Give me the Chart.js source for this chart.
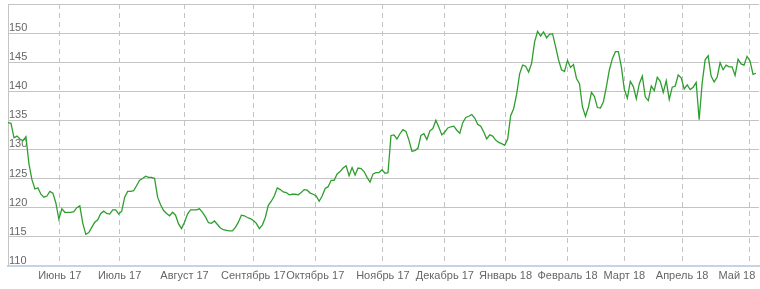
<!DOCTYPE html>
<html>
<head>
<meta charset="utf-8">
<script src="https://cdn.jsdelivr.net/npm/chart.js@4.4.1/dist/chart.umd.min.js"></script>
<style>
  html, body { margin: 0; padding: 0; background: #fff; }
</style>
</head>
<body>
<canvas id="priceChart" width="760" height="289"></canvas>
<script>
// daily closes, mid-May 2017 .. early May 2018 (one value per trading day)
const prices = [
    134.6, 134.5, 132.0, 132.3, 131.8, 131.5, 132.2, 127.5, 124.8, 123.2,
    123.4, 122.3, 121.8, 122.0, 122.8, 122.5, 120.8, 118.0, 119.8, 119.2,
    119.2, 119.2, 119.3, 120.0, 120.3, 117.3, 115.4, 115.7, 116.6, 117.5,
    117.9, 119.0, 119.4, 119.0, 118.9, 119.6, 119.6, 118.9, 119.4, 121.8,
    122.8, 122.8, 122.9, 123.8, 124.7, 125.0, 125.4, 125.2, 125.2, 125.0,
    121.8, 120.5, 119.5, 119.0, 118.6, 119.2, 118.7, 117.2, 116.4, 117.5,
    118.9, 119.6, 119.6, 119.6, 119.8, 119.2, 118.4, 117.4, 117.3, 117.7,
    117.1, 116.5, 116.2, 116.1, 116.0, 116.0, 116.6, 117.5, 118.7, 118.6,
    118.3, 118.1, 117.8, 117.3, 116.4, 117.0, 118.3, 120.4, 121.1, 122.0,
    123.4, 123.1, 122.7, 122.6, 122.2, 122.3, 122.3, 122.2, 122.6, 123.1,
    123.0, 122.5, 122.3, 122.0, 121.1, 122.0, 123.3, 123.6, 124.7, 124.7,
    125.8, 126.2, 126.8, 127.2, 125.5, 126.9, 125.6, 126.8, 126.7, 126.2,
    125.2, 124.4, 125.8, 126.0, 126.0, 126.5, 125.9, 126.0, 132.4, 132.5,
    131.8, 132.7, 133.4, 133.1, 131.6, 129.7, 129.8, 130.2, 132.4, 132.7,
    131.7, 133.2, 133.6, 135.0, 133.8, 132.5, 133.0, 133.7, 133.9, 134.0,
    133.3, 132.8, 134.6, 135.5, 135.7, 136.0, 135.4, 134.3, 134.0, 133.0,
    131.8, 132.5, 132.3, 131.6, 131.2, 131.0, 130.7, 131.8, 135.8, 137.0,
    139.5, 143.0, 144.5, 144.3, 143.3, 144.8, 148.5, 150.3, 149.5, 150.2,
    149.2, 149.8, 149.9, 147.7, 145.4, 143.7, 143.4, 145.3, 144.1, 144.6,
    142.2, 141.3, 137.3, 135.7, 137.3, 139.8, 139.1, 137.2, 137.1, 138.2,
    140.8, 143.7, 145.6, 146.8, 146.8, 144.2, 140.3, 138.8, 141.7, 140.8,
    138.7, 141.3, 142.6, 139.0, 138.4, 140.9, 140.1, 142.4, 141.7, 139.8,
    141.8, 138.6, 140.7, 140.9, 142.8, 142.3, 140.4, 141.1, 140.3, 140.7,
    141.5, 135.1, 141.4, 145.4, 146.1, 142.6, 141.6, 142.4, 144.9, 143.7,
    144.5, 144.2, 144.2, 142.7, 145.5, 144.7, 144.5, 146.0, 145.2, 142.9,
    143.1
];

// where each month starts, in trading-day index units
const monthPos = [17.3, 37.3, 59, 82, 102.7, 125.3, 146, 166.3, 187, 206, 225.3, 247.7];
const monthLabels = [
    'Июнь 17', 'Июль 17', 'Август 17', 'Сентябрь 17', 'Октябрь 17', 'Ноябрь 17',
    'Декабрь 17', 'Январь 18', 'Февраль 18', 'Март 18', 'Апрель 18', 'Май 18'
];

const yMin = 110, yMax = 155, yStep = 5;

Chart.defaults.font.family = 'Arial, "Liberation Sans", sans-serif';
Chart.defaults.font.size = 11;
Chart.defaults.color = '#666';

// labels sit inside the plot, so no extra room is needed around the axes
const noEdgePadding = (scale) => {
    scale.paddingLeft = 0;
    scale.paddingRight = 0;
    scale.paddingTop = 0;
    scale.paddingBottom = 0;
};

const ctx = document.getElementById('priceChart').getContext('2d');
const priceChart = new Chart(ctx, {
    type: 'line',
    data: {
        datasets: [{
            data: prices.map((p, i) => ({ x: i, y: p })),
            borderColor: '#2f9e2f',
            borderWidth: 1.3,
            pointRadius: 0,
            tension: 0,
            fill: false
        }]
    },
    options: {
        responsive: false,
        animation: false,
        layout: { padding: { left: 6, right: 1, top: 4, bottom: 2 } },
        plugins: {
            legend: { display: false },
            tooltip: { enabled: false }
        },
        scales: {
            x: {
                type: 'linear',
                min: 0,
                max: 251,
                afterBuildTicks: (scale) => {
                    scale.ticks = monthPos.map(v => ({ value: v }));
                },
                afterFit: noEdgePadding,
                grid: {
                    color: '#c4c4c4',
                    lineWidth: 1,
                    drawTicks: false
                },
                border: {
                    color: '#c5d3e3',
                    width: 2,
                    dash: [5, 4]
                },
                ticks: {
                    autoSkip: false,
                    maxRotation: 0,
                    minRotation: 0,
                    padding: 4,
                    color: '#666',
                    callback: (value, index) => {
                        // last label is pushed left so it stays inside the canvas
                        if (index === monthLabels.length - 1) return monthLabels[index] + '        ';
                        return monthLabels[index];
                    }
                }
            },
            y: {
                min: yMin,
                max: yMax,
                afterFit: noEdgePadding,
                grid: {
                    color: '#c4c4c4',
                    lineWidth: 1,
                    drawTicks: false
                },
                border: { color: '#c4c4c4', width: 1 },
                ticks: {
                    stepSize: yStep,
                    mirror: true,
                    padding: 1,
                    labelOffset: -5,
                    color: '#666',
                    callback: (v) => v === yMax ? '' : v
                }
            }
        }
    }
});
</script>
</body>
</html>
